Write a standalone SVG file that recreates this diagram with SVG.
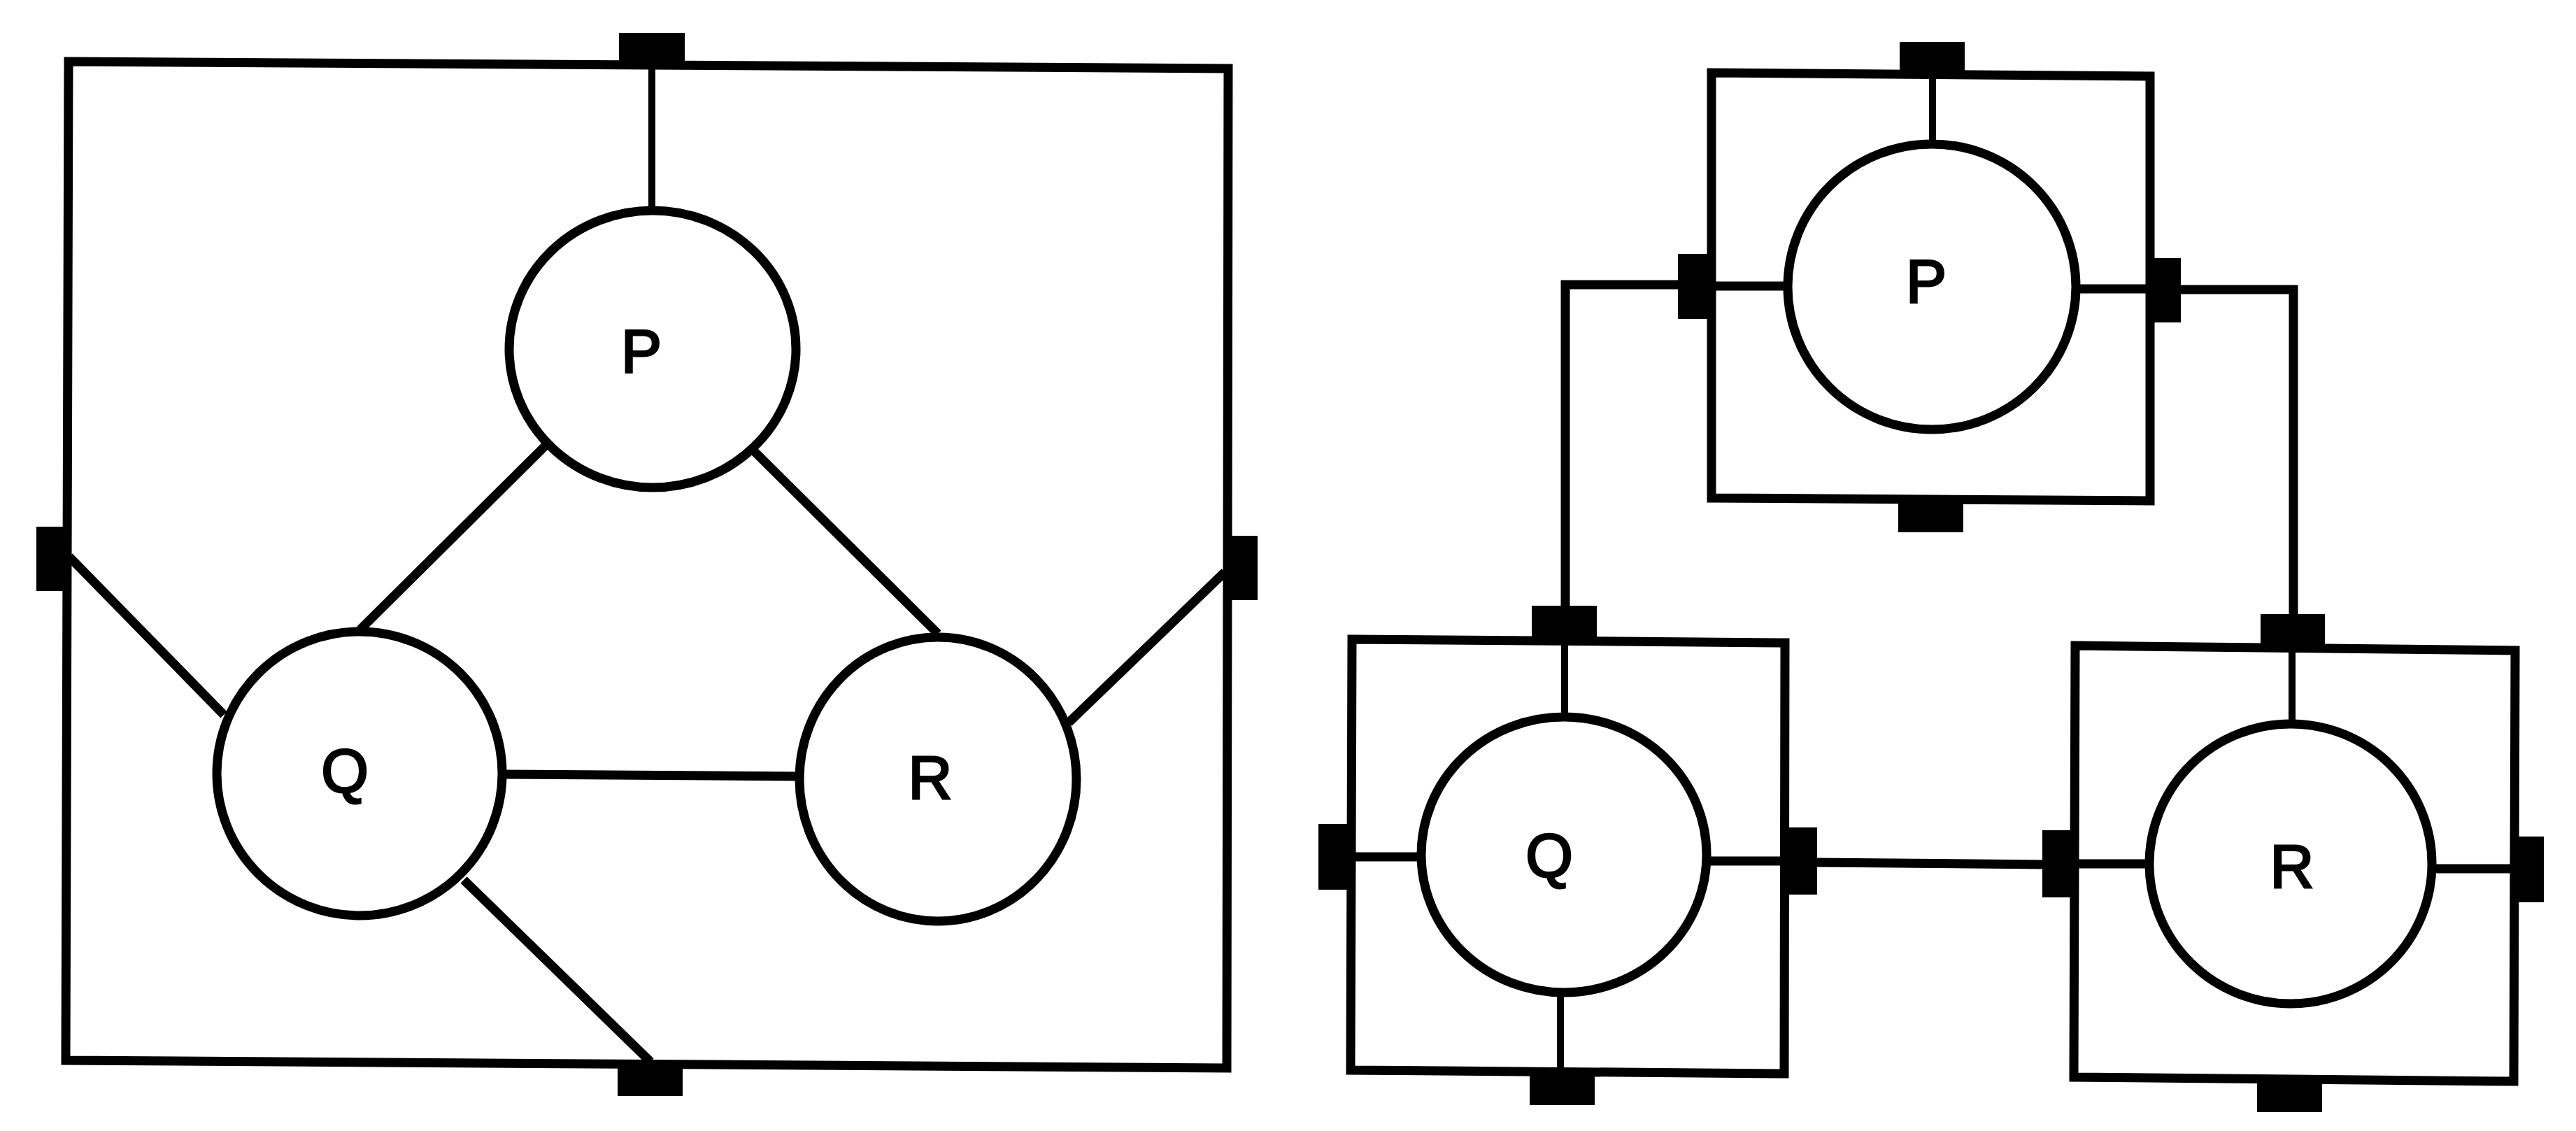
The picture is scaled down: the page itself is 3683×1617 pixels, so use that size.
<svg xmlns="http://www.w3.org/2000/svg" width="3683" height="1617" viewBox="0 0 3683 1617">
<style>
.box{fill:none;stroke:#000;stroke-width:13;stroke-linejoin:miter}
.ell{fill:#fff;stroke:#000;stroke-width:13}
.port{fill:#000;stroke:none}
.con{fill:none;stroke:#000;stroke-width:13;stroke-linecap:butt}
.thin{fill:none;stroke:#000;stroke-width:10}
.lbl{font-family:"Liberation Sans",Arial,sans-serif;font-size:87px;fill:#000;stroke:#000;stroke-width:3;text-anchor:middle}
</style>
<rect width="3683" height="1617" fill="#fff"/>
<g id="left-diagram">
  <g id="outer-box">
    <polygon class="box" points="98,88 1756,98 1754,1527 94,1516"/>
    <rect class="port" x="885" y="47" width="94" height="50"/>
    <rect class="port" x="883" y="1518" width="93" height="49"/>
    <rect class="port" x="52" y="753" width="48" height="92"/>
    <rect class="port" x="1750" y="766" width="48" height="92"/>
  </g>
  <g id="left-connectors">
    <line class="thin" x1="932" y1="97" x2="932" y2="300"/>
    <line class="con" x1="782" y1="635" x2="515" y2="900"/>
    <line class="con" x1="1073" y1="640" x2="1341" y2="906"/>
    <line class="con" x1="99" y1="796" x2="320" y2="1022"/>
    <line class="con" x1="1751" y1="818" x2="1528" y2="1033"/>
    <line class="con" x1="716" y1="1107" x2="1145" y2="1110"/>
    <line class="con" x1="663" y1="1258" x2="930" y2="1518"/>
  </g>
  <g id="left-P">
    <ellipse class="ell" cx="933" cy="499" rx="205" ry="198"/>
    <text class="lbl" x="917" y="532">P</text>
  </g>
  <g id="left-Q">
    <ellipse class="ell" cx="514" cy="1106" rx="204" ry="203"/>
    <text class="lbl" x="493" y="1133">Q</text>
  </g>
  <g id="left-R">
    <ellipse class="ell" cx="1341" cy="1114" rx="198" ry="203"/>
    <text class="lbl" x="1330" y="1142">R</text>
  </g>
</g>
<g id="right-diagram">
  <g id="right-connectors">
    <polyline class="con" points="2400,407 2238,407 2238,868"/>
    <polyline class="con" points="3116,414 3279,414 3279,880"/>
    <line class="con" x1="2596" y1="1233" x2="2922" y2="1236"/>
    <line class="thin" x1="2763" y1="106" x2="2763" y2="208"/>
    <line class="con" x1="2447" y1="409" x2="2558" y2="409"/>
    <line class="con" x1="2966" y1="413" x2="3074" y2="413"/>
    <line class="thin" x1="2237" y1="912" x2="2237" y2="1027"/>
    <line class="thin" x1="2231" y1="1417" x2="2231" y2="1536"/>
    <line class="con" x1="1933" y1="1225" x2="2034" y2="1225"/>
    <line class="con" x1="2439" y1="1231" x2="2550" y2="1231"/>
    <line class="thin" x1="3277" y1="924" x2="3277" y2="1037"/>
    <line class="con" x1="2968" y1="1235" x2="3075" y2="1235"/>
    <line class="con" x1="3475" y1="1242" x2="3592" y2="1242"/>
  </g>
  <g id="right-P">
    <polygon class="box" points="2447,104 3074,109 3074,716 2447,712"/>
    <rect class="port" x="2716" y="60" width="93" height="48"/>
    <rect class="port" x="2714" y="714" width="93" height="47"/>
    <rect class="port" x="2399" y="363" width="48" height="93"/>
    <rect class="port" x="3072" y="369" width="46" height="92"/>
    <ellipse class="ell" cx="2762" cy="410" rx="206" ry="204"/>
    <text class="lbl" x="2754" y="432">P</text>
  </g>
  <g id="right-Q">
    <polygon class="box" points="1933,914 2552,919 2551,1535 1931,1530"/>
    <rect class="port" x="2190" y="866" width="93" height="48"/>
    <rect class="port" x="2187" y="1534" width="93" height="46"/>
    <rect class="port" x="1885" y="1178" width="48" height="94"/>
    <rect class="port" x="2549" y="1183" width="49" height="96"/>
    <ellipse class="ell" cx="2236" cy="1222" rx="204" ry="197"/>
    <text class="lbl" x="2215" y="1254">Q</text>
  </g>
  <g id="right-R">
    <polygon class="box" points="2967,923 3596,930 3594,1546 2965,1540"/>
    <rect class="port" x="3232" y="878" width="92" height="48"/>
    <rect class="port" x="3227" y="1546" width="93" height="44"/>
    <rect class="port" x="2920" y="1187" width="50" height="96"/>
    <rect class="port" x="3590" y="1196" width="47" height="94"/>
    <ellipse class="ell" cx="3275" cy="1235" rx="202" ry="200"/>
    <text class="lbl" x="3277" y="1269">R</text>
  </g>
</g>
</svg>
